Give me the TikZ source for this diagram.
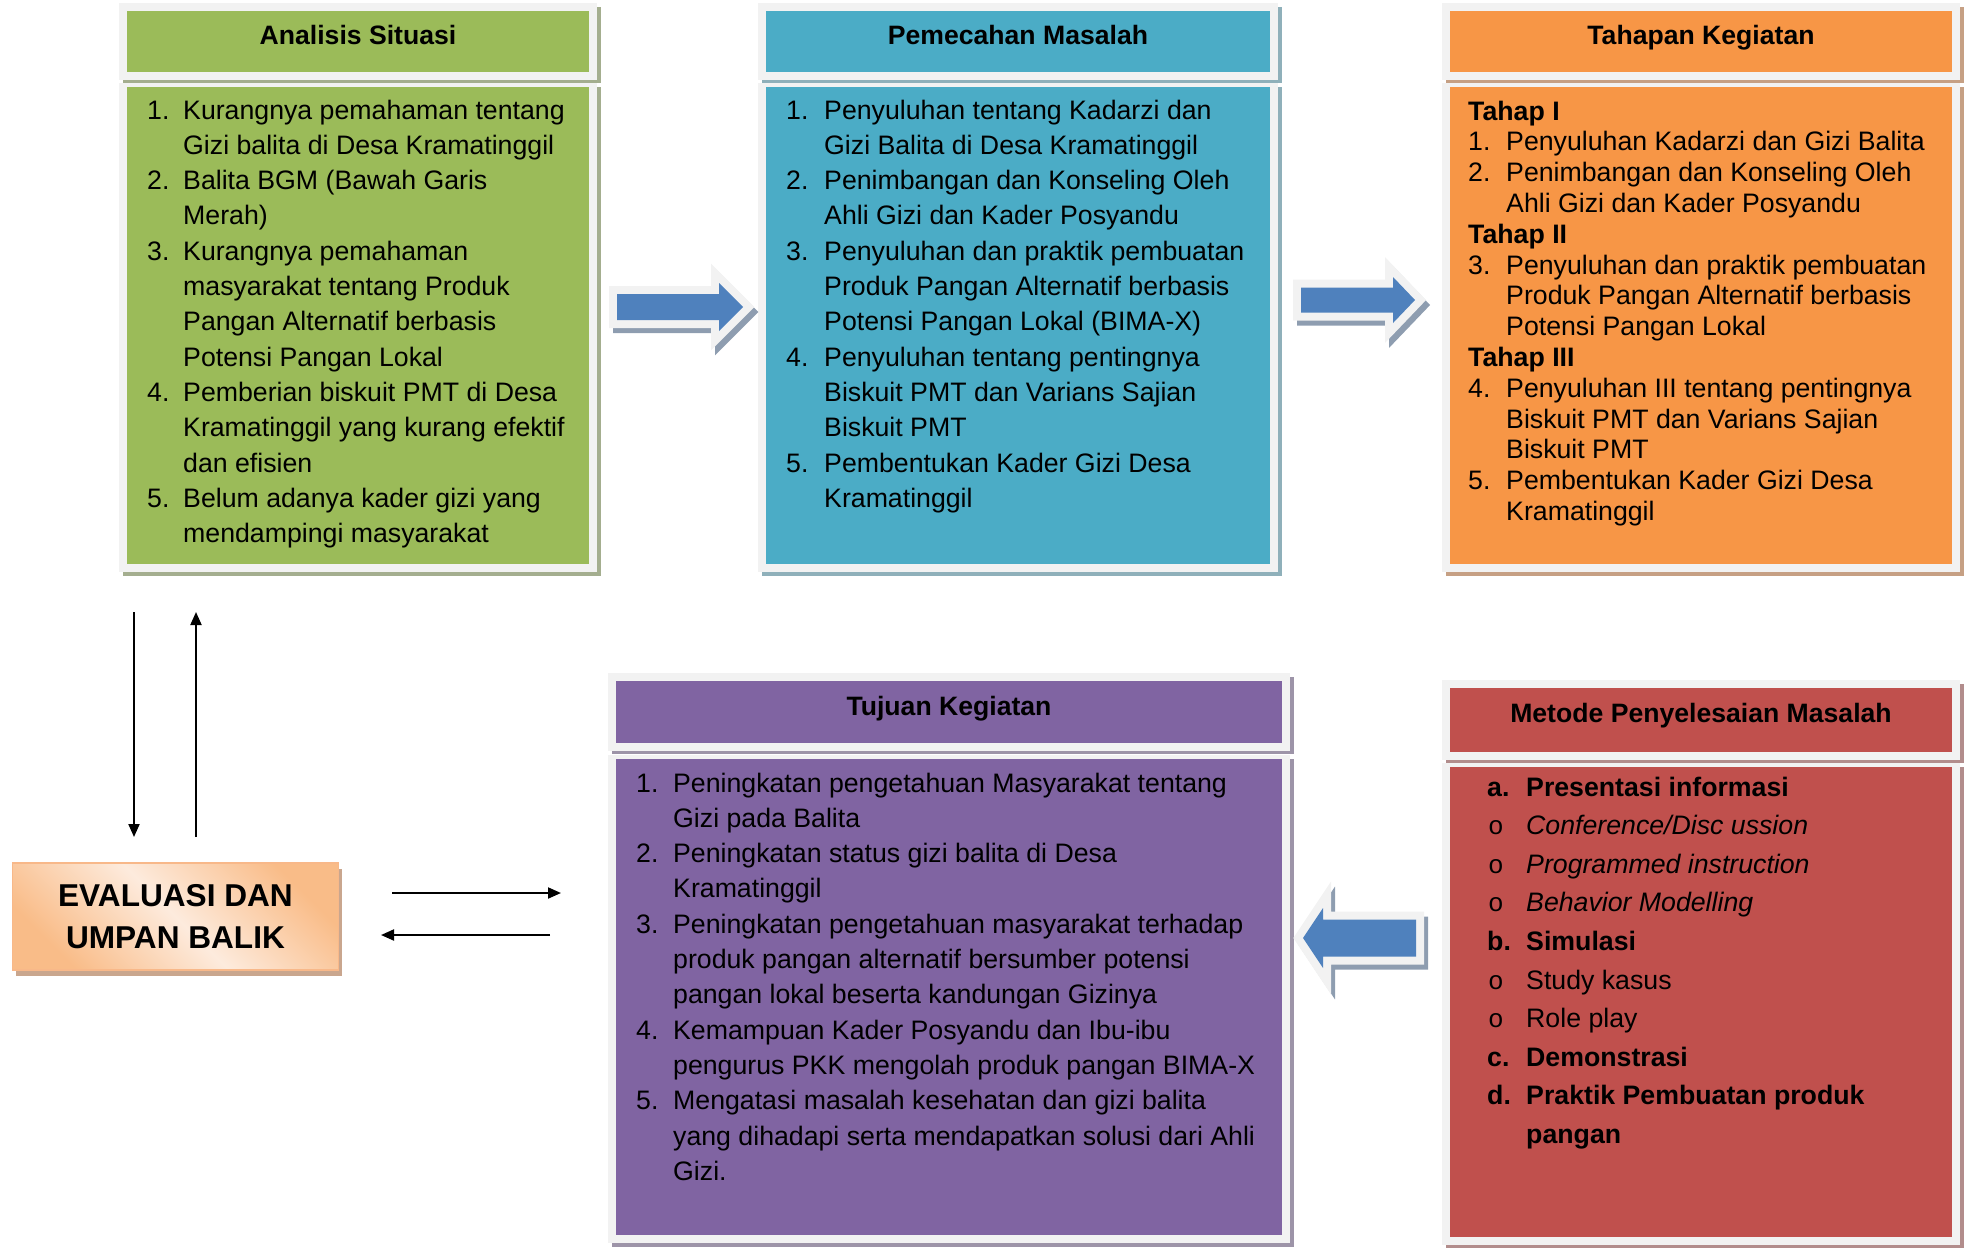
\documentclass[tikz,border=0pt]{standalone}
\usepackage{fontspec}
\setmainfont{Liberation Sans}
\newfontfamily\bulfont{Liberation Mono}
\usetikzlibrary{arrows.meta}

\definecolor{frame}{HTML}{F2F2F2}
\definecolor{cgreen}{HTML}{9BBB59}
\definecolor{cblue}{HTML}{4BACC6}
\definecolor{corange}{HTML}{F79646}
\definecolor{cpurple}{HTML}{8064A2}
\definecolor{cred}{HTML}{C0504D}
\definecolor{sgreen}{HTML}{A4AE8F}
\definecolor{sblue}{HTML}{8FB0BA}
\definecolor{sorange}{HTML}{C6A084}
\definecolor{spurple}{HTML}{9D94A8}
\definecolor{sred}{HTML}{B28D8C}
\definecolor{arrblue}{HTML}{4F81BD}
\definecolor{arrshadow}{HTML}{8E9DB0}
\definecolor{evorange}{HTML}{F9BC88}
\definecolor{evlight}{HTML}{FDEBDD}
\definecolor{evborder}{HTML}{F8B889}
\definecolor{evshadow}{HTML}{C9A68E}

\newcommand\bodyfont{\fontsize{26.7bp}{35.3bp}\selectfont}
\newcommand\tahapfont{\fontsize{26.7bp}{30.8bp}\selectfont}
\newcommand\metodefont{\fontsize{26.7bp}{38.6bp}\selectfont}
\newcommand\bul{\hspace{1bp}{\bulfont\fontsize{26bp}{26bp}\selectfont o}}

% #1 L, #2 T, #3 R, #4 header bottom, #5 body top, #6 body bottom, #7 fill, #8 shadow
\newcommand\panel[8]{%
  \fill[#8] (#1+4,#2+4) rectangle (#3+4,#4+3);
  \fill[frame] (#1,#2) rectangle (#3,#4);
  \fill[#7] (#1+8,#2+8) rectangle (#3-8,#4-8);
  \fill[#8] (#1+4,#5+4) rectangle (#3+4,#6+4);
  \fill[frame] (#1,#5) rectangle (#3,#6);
  \fill[#7] (#1+8,#5+4) rectangle (#3-8,#6-8);
}
% x0, x base of head, x tip, y centre, shaft half height, head half height
\newcommand\arrowpath[6]{(#1,#4-#5) -- (#2,#4-#5) -- (#2,#4-#6) -- (#3,#4) -- (#2,#4+#6) -- (#2,#4+#5) -- (#1,#4+#5) -- cycle}
\newcommand\blockarrow[6]{%
  \begin{scope}[shift={(4,5)}]
    \filldraw[draw=arrshadow, fill=arrshadow, line width=16bp, line join=miter] \arrowpath{#1}{#2}{#3}{#4}{#5}{#6};
  \end{scope}
  \filldraw[draw=frame, fill=frame, line width=16bp, line join=miter] \arrowpath{#1}{#2}{#3}{#4}{#5}{#6};
  \fill[arrblue] \arrowpath{#1}{#2}{#3}{#4}{#5}{#6};
}

\tikzset{
  hdr/.style={anchor=base, inner sep=0pt, font=\fontsize{26.6bp}{30bp}\selectfont\bfseries},
  body/.style={anchor=base west, inner sep=0pt, align=left},
  conn/.style={line width=2bp, -{Triangle[length=13bp, width=11bp]}},
  evbox/.style={draw=evborder, line width=1.5bp,
    left color=evorange, right color=evorange, middle color=evlight, shading angle=-45,
    minimum width=326bp, minimum height=107bp, inner sep=0pt, align=center,
    font=\fontsize{31.6bp}{42.6bp}\selectfont\bfseries}
}

\begin{document}
\begin{tikzpicture}[x=1bp,y=-1bp]
\useasboundingbox (0,0) rectangle (1966,1247);

% panels
\panel{119}{3}{597}{80}{83}{572}{cgreen}{sgreen}
\panel{758}{3}{1278}{80}{83}{572}{cblue}{sblue}
\panel{1442}{3}{1960}{80}{83}{572}{corange}{sorange}
\panel{608}{673}{1290}{751}{755}{1243}{cpurple}{spurple}
\panel{1442}{680}{1960}{760}{763}{1245}{cred}{sred}

% headers
\node[hdr] (h1) at (358,44) {Analisis Situasi};
\node[hdr] (h2) at (1018,44) {Pemecahan Masalah};
\node[hdr] (h3) at (1701,44) {Tahapan Kegiatan};
\node[hdr] (h4) at (949,715) {Tujuan Kegiatan};
\node[hdr] (h5) at (1701,722) {Metode Penyelesaian Masalah};

% bodies
\node[body, font=\bodyfont] (b1) at (147,119) {%
\begin{tabular}[t]{@{}p{36bp}@{}l@{}}
1. & Kurangnya pemahaman tentang\\
   & Gizi balita di Desa Kramatinggil\\
2. & Balita BGM (Bawah Garis\\
   & Merah)\\
3. & Kurangnya pemahaman\\
   & masyarakat tentang Produk\\
   & Pangan Alternatif berbasis\\
   & Potensi Pangan Lokal\\
4. & Pemberian biskuit PMT di Desa\\
   & Kramatinggil yang kurang efektif\\
   & dan efisien\\
5. & Belum adanya kader gizi yang\\
   & mendampingi masyarakat
\end{tabular}};

\node[body, font=\bodyfont] (b2) at (786,119) {%
\begin{tabular}[t]{@{}p{38bp}@{}l@{}}
1. & Penyuluhan tentang Kadarzi dan\\
   & Gizi Balita di Desa Kramatinggil\\
2. & Penimbangan dan Konseling Oleh\\
   & Ahli Gizi dan Kader Posyandu\\
3. & Penyuluhan dan praktik pembuatan\\
   & Produk Pangan Alternatif berbasis\\
   & Potensi Pangan Lokal (BIMA-X)\\
4. & Penyuluhan tentang pentingnya\\
   & Biskuit PMT dan Varians Sajian\\
   & Biskuit PMT\\
5. & Pembentukan Kader Gizi Desa\\
   & Kramatinggil
\end{tabular}};

\node[body, font=\tahapfont] (b3) at (1468,120) {%
\begin{tabular}[t]{@{}p{38bp}@{}l@{}}
\multicolumn{2}{@{}l@{}}{\textbf{Tahap I}}\\
1. & Penyuluhan Kadarzi dan Gizi Balita\\
2. & Penimbangan dan Konseling Oleh\\
   & Ahli Gizi dan Kader Posyandu\\
\multicolumn{2}{@{}l@{}}{\textbf{Tahap II}}\\
3. & Penyuluhan dan praktik pembuatan\\
   & Produk Pangan Alternatif berbasis\\
   & Potensi Pangan Lokal\\
\multicolumn{2}{@{}l@{}}{\textbf{Tahap III}}\\
4. & Penyuluhan III tentang pentingnya\\
   & Biskuit PMT dan Varians Sajian\\
   & Biskuit PMT\\
5. & Pembentukan Kader Gizi Desa\\
   & Kramatinggil
\end{tabular}};

\node[body, font=\bodyfont] (b4) at (636,792) {%
\begin{tabular}[t]{@{}p{37bp}@{}l@{}}
1. & Peningkatan pengetahuan Masyarakat tentang\\
   & Gizi pada Balita\\
2. & Peningkatan status gizi balita di Desa\\
   & Kramatinggil\\
3. & Peningkatan pengetahuan masyarakat terhadap\\
   & produk pangan alternatif bersumber potensi\\
   & pangan lokal beserta kandungan Gizinya\\
4. & Kemampuan Kader Posyandu dan Ibu-ibu\\
   & pengurus PKK mengolah produk pangan BIMA-X\\
5. & Mengatasi masalah kesehatan dan gizi balita\\
   & yang dihadapi serta mendapatkan solusi dari Ahli\\
   & Gizi.
\end{tabular}};

\node[body, font=\metodefont] (b5) at (1487,796) {%
\begin{tabular}[t]{@{}p{39bp}@{}l@{}}
\textbf{a.} & \textbf{Presentasi informasi}\\
\bul & \textit{Conference/Disc ussion}\\
\bul & \textit{Programmed instruction}\\
\bul & \textit{Behavior Modelling}\\
\textbf{b.} & \textbf{Simulasi}\\
\bul & Study kasus\\
\bul & Role play\\
\textbf{c.} & \textbf{Demonstrasi}\\
\textbf{d.} & \textbf{Praktik Pembuatan produk}\\
   & \textbf{pangan}
\end{tabular}};

% block arrows
\blockarrow{617}{719}{743}{307}{13}{24}
\blockarrow{1301}{1393}{1415}{300}{12.5}{23}
\blockarrow{1416}{1323}{1303}{938}{18.5}{30}

% evaluation box
\fill[evshadow] (16,869) rectangle (342,976);
\node[evbox] (ev) at (175.5,916.5) {EVALUASI DAN\\UMPAN BALIK};

% feedback arrows
\coordinate (dA) at (134,612); \coordinate (dB) at (134,837);
\coordinate (uA) at (196,837); \coordinate (uB) at (196,612);
\coordinate (rA) at (392,893); \coordinate (rB) at (561,893);
\coordinate (lA) at (550,935); \coordinate (lB) at (381,935);
\draw[conn] (dA) -- (dB);
\draw[conn] (uA) -- (uB);
\draw[conn] (rA) -- (rB);
\draw[conn] (lA) -- (lB);
\end{tikzpicture}
\end{document}
